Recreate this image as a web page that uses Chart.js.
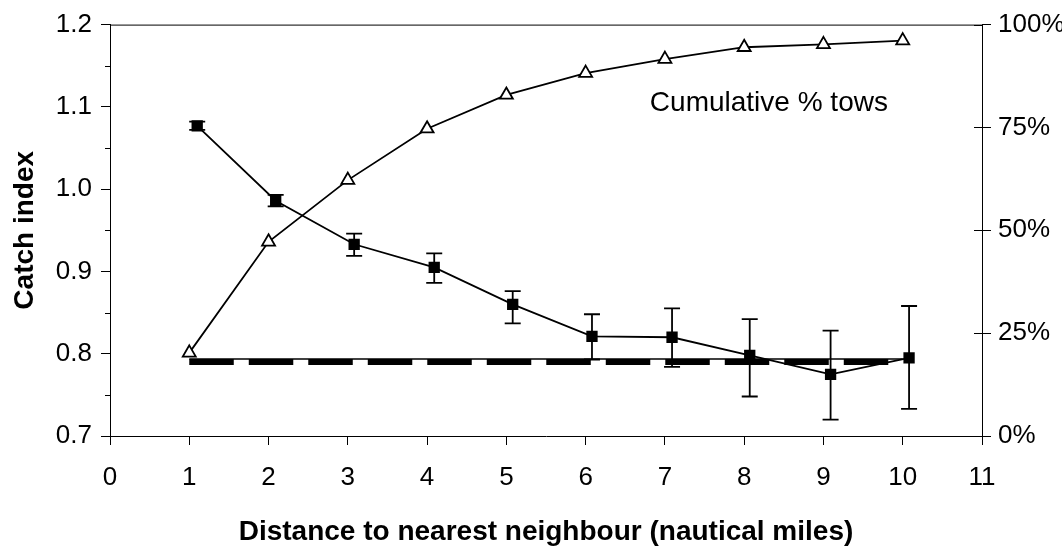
<!DOCTYPE html>
<html>
<head>
<meta charset="utf-8">
<script src="https://cdn.jsdelivr.net/npm/chart.js@4.4.1/dist/chart.umd.min.js"></script>
<style>
  html, body { margin: 0; padding: 0; background: #fff; }
</style>
</head>
<body>
<canvas id="chart" width="1062" height="547"></canvas>
<script>
// distance classes (nautical miles)
const distance = [1, 2, 3, 4, 5, 6, 7, 8, 9, 10];
// catch index points sit slightly right of the integer positions
const catchX = [1.10, 2.09, 3.08, 4.09, 5.08, 6.08, 7.09, 8.07, 9.09, 10.08];
const catchIndex = [1.077, 0.986, 0.933, 0.905, 0.860, 0.821, 0.820, 0.798, 0.775, 0.795];
const errLow = [1.072, 0.979, 0.919, 0.886, 0.837, 0.793, 0.784, 0.748, 0.720, 0.733];
const errHigh = [1.082, 0.993, 0.946, 0.922, 0.876, 0.848, 0.855, 0.842, 0.828, 0.858];
// cumulative % of tows
const cumPct = [20.2, 47.2, 62.2, 74.7, 82.9, 88.2, 91.6, 94.5, 95.2, 96.1];
// reference level
const refLevel = 0.790;
const refThin = 0.7935;
const minorTicks = [0.75, 0.85, 0.95, 1.05, 1.15];

const FONT = "'Liberation Sans', Arial, sans-serif";
Chart.defaults.font.family = FONT;
Chart.defaults.color = '#000';

const errorBarSets = catchX.map((x, i) => ({
    type: 'line',
    data: [{x: x, y: errLow[i]}, {x: x, y: errHigh[i]}],
    yAxisID: 'y',
    borderColor: '#000',
    borderWidth: 1.8,
    pointStyle: 'line',
    pointRadius: 8,
    pointBorderWidth: 1.8,
    pointBorderColor: '#000',
    order: 3
}));

// frame, minor ticks, crossing ticks and the in-plot note
const extras = {
    id: 'extras',
    afterDraw(chart) {
        const ctx = chart.ctx;
        const a = chart.chartArea;
        const yL = chart.scales.y;
        const yR = chart.scales.y2;
        const xS = chart.scales.x;
        ctx.save();
        ctx.strokeStyle = '#000';
        ctx.lineWidth = 1;
        ctx.beginPath();
        ctx.moveTo(a.left, a.top + 0.5);
        ctx.lineTo(a.right, a.top + 0.5);
        minorTicks.forEach(v => {
            const py = Math.round(yL.getPixelForValue(v)) + 0.5;
            ctx.moveTo(a.left - 5, py);
            ctx.lineTo(a.left, py);
        });
        [0, 25, 50, 75, 100].forEach(v => {
            const py = Math.round(yR.getPixelForValue(v)) + 0.5;
            ctx.moveTo(a.right - 8, py);
            ctx.lineTo(a.right, py);
        });
        ctx.stroke();
        ctx.fillStyle = '#000';
        ctx.font = '28px ' + FONT;
        ctx.textBaseline = 'alphabetic';
        ctx.fillText('Cumulative % tows', xS.getPixelForValue(6.81), yR.getPixelForValue(79));
        ctx.restore();
    }
};

new Chart(document.getElementById('chart'), {
    type: 'line',
    data: {
        datasets: [{
            label: 'ref dashed',
            data: [{x: 1, y: refLevel}, {x: 10, y: refLevel}],
            yAxisID: 'y',
            borderColor: '#000',
            borderWidth: 6,
            borderDash: [44.5, 15],
            borderCapStyle: 'butt',
            pointRadius: 0,
            order: 5
        }, {
            label: 'ref thin',
            data: [{x: 1, y: refThin}, {x: 10, y: refThin}],
            yAxisID: 'y',
            borderColor: '#000',
            borderWidth: 1.5,
            pointRadius: 0,
            order: 4
        },
        ...errorBarSets,
        {
            label: 'Catch index',
            data: catchX.map((x, i) => ({x: x, y: catchIndex[i]})),
            yAxisID: 'y',
            borderColor: '#000',
            borderWidth: 1.8,
            pointStyle: 'rect',
            pointRadius: 8,
            pointBackgroundColor: '#000',
            pointBorderColor: '#000',
            pointBorderWidth: 0,
            order: 1
        }, {
            label: 'Cumulative % tows',
            data: distance.map((x, i) => ({x: x, y: cumPct[i]})),
            yAxisID: 'y2',
            borderColor: '#000',
            borderWidth: 1.8,
            pointStyle: 'triangle',
            pointRadius: 7.5,
            pointBackgroundColor: '#fff',
            pointBorderColor: '#000',
            pointBorderWidth: 1.8,
            order: 2
        }]
    },
    options: {
        responsive: false,
        animation: false,
        layout: { padding: { top: 21, left: 0, right: 0, bottom: 0 } },
        plugins: {
            legend: { display: false },
            tooltip: { enabled: false }
        },
        scales: {
            x: {
                type: 'linear',
                min: 0,
                max: 11,
                afterFit: scale => { scale.height = 111; },
                ticks: { stepSize: 1, font: { size: 26 }, padding: 17 },
                grid: { drawOnChartArea: false, tickLength: 9, tickColor: '#000' },
                border: { color: '#000', width: 1 },
                title: {
                    display: true,
                    text: 'Distance to nearest neighbour (nautical miles)',
                    font: { size: 28, weight: 'bold', lineHeight: 1 },
                    padding: { top: 0, bottom: 1 }
                }
            },
            y: {
                position: 'left',
                min: 0.7,
                max: 1.2,
                afterFit: scale => { scale.width = 110; },
                ticks: {
                    stepSize: 0.1,
                    font: { size: 26 },
                    padding: 9,
                    callback: v => v.toFixed(1)
                },
                grid: { drawOnChartArea: false, tickLength: 9, tickColor: '#000' },
                border: { color: '#000', width: 1 },
                title: {
                    display: true,
                    text: 'Catch index',
                    font: { size: 28, weight: 'bold', lineHeight: 1 },
                    padding: { top: 11, bottom: 0 }
                }
            },
            y2: {
                position: 'right',
                min: 0,
                max: 100,
                afterFit: scale => { scale.width = 80; },
                ticks: {
                    stepSize: 25,
                    font: { size: 26 },
                    padding: 7,
                    callback: v => v + '%'
                },
                grid: { drawOnChartArea: false, tickLength: 9, tickColor: '#000' },
                border: { color: '#000', width: 1 }
            }
        }
    },
    plugins: [extras]
});
</script>
</body>
</html>
